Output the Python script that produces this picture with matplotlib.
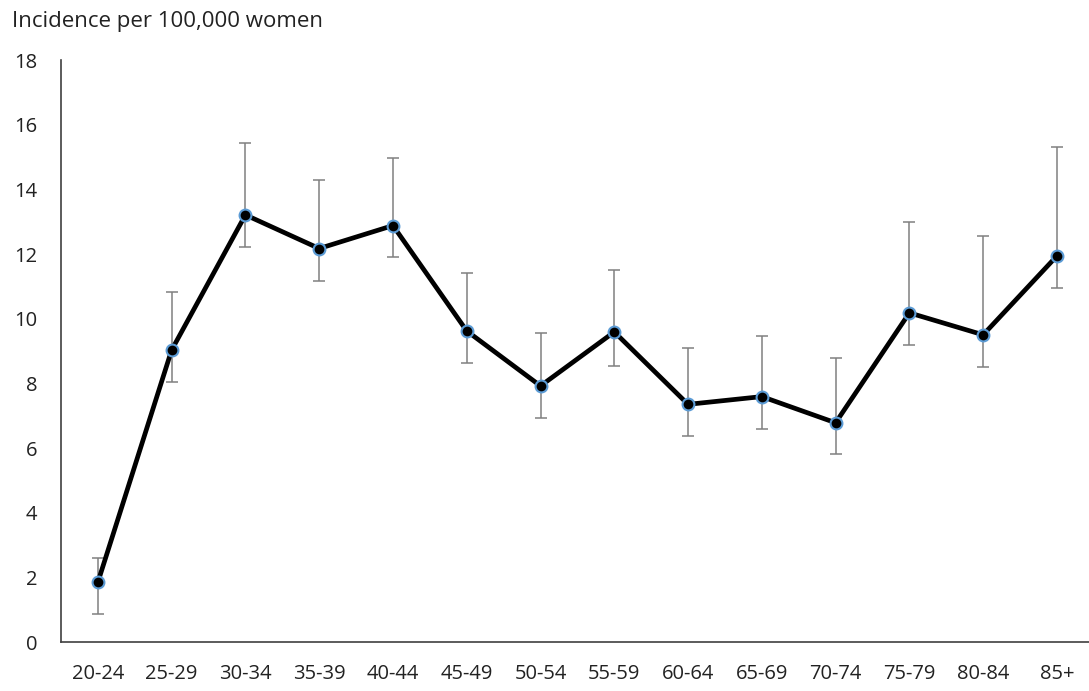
import matplotlib.pyplot as plt
import numpy as np

# age groups and incidence values
age_groups = ['20-24', '25-29', '30-34', '35-39', '40-44', '45-49', '50-54',
              '55-59', '60-64', '65-69', '70-74', '75-79', '80-84', '85+']
incidence = [1.85, 9.03, 13.21, 12.17, 12.88, 9.62, 7.92,
             9.59, 7.35, 7.59, 6.78, 10.18, 9.50, 11.94]
ci_upper = [2.59, 10.84, 15.42, 14.29, 14.98, 11.40, 9.57,
            11.49, 9.10, 9.47, 8.79, 12.98, 12.57, 15.32]
ci_lower = [0.87, 8.05, 12.23, 11.18, 11.90, 8.62, 6.93,
            8.55, 6.36, 6.58, 5.80, 9.18, 8.51, 10.95]

plt.rcParams['font.family'] = ['Open Sans', 'DejaVu Sans']

fig = plt.figure(figsize=(10.89, 6.91), dpi=100)
ax = fig.add_axes([61 / 1089, 49 / 691, 1028 / 1089, 582 / 691])

x = np.arange(len(age_groups))
inc = np.array(incidence)
yerr = [inc - np.array(ci_lower), np.array(ci_upper) - inc]

ax.errorbar(x, inc, yerr=yerr, fmt='none', ecolor='#808080',
            elinewidth=1.1, capsize=4.5, capthick=1.1, zorder=2)
ax.plot(x, inc, color='black', linewidth=3.4, marker='o', markersize=8.5,
        markerfacecolor='black', markeredgecolor='#5B9BD5',
        markeredgewidth=1.5, zorder=3)

ax.set_xlim(-0.5, 13.435)
ax.set_ylim(0, 18)
ax.set_yticks(np.arange(0, 19, 2))
ax.set_xticks(x)
ax.set_xticklabels(age_groups)
ax.tick_params(axis='both', length=0, labelsize=14.5, colors='#222222')
ax.tick_params(axis='x', pad=16)
ax.tick_params(axis='y', pad=17)

for side in ['top', 'right']:
    ax.spines[side].set_visible(False)
for side in ['left', 'bottom']:
    ax.spines[side].set_color('#404040')
    ax.spines[side].set_linewidth(1.2)

fig.text(12 / 1089, 1 - 21 / 691, 'Incidence per 100,000 women',
         fontsize=16, color='#222222', va='center', ha='left')

fig.savefig('out.png', dpi=100)
